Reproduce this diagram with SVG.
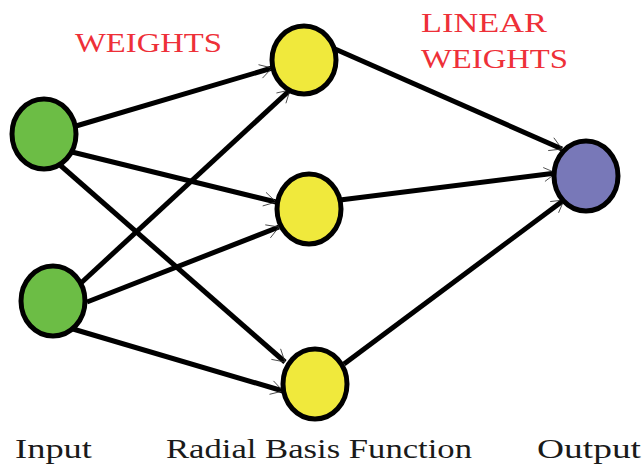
<svg xmlns="http://www.w3.org/2000/svg" width="643" height="472" viewBox="0 0 643 472">
<style>
.edge{stroke:#000;stroke-width:5;fill:none;marker-end:url(#arr)}
.node{stroke:#000;stroke-width:5}
.in{fill:#6cbd45}
.rbf{fill:#f0e93c}
.out{fill:#7878b8}
.red{fill:#ee3038}
.lbl{fill:#1a1a1a}
</style>
<defs>
<marker id="arr" markerUnits="userSpaceOnUse" markerWidth="20" markerHeight="20" refX="0" refY="0" viewBox="-16 -10 20 20" orient="auto">
<path d="M-12,-7 L0,0 L-12,7" fill="none" stroke="#333" stroke-width="0.8"/>
</marker>
</defs>
<rect width="643" height="472" fill="#fff"/>
<g id="connectors">
<line class="edge" x1="76" y1="126" x2="272" y2="68"/>
<line class="edge" x1="72" y1="152" x2="276" y2="202"/>
<line class="edge" x1="60" y1="165" x2="285" y2="362"/>
<line class="edge" x1="81" y1="283" x2="290" y2="90"/>
<line class="edge" x1="87" y1="302" x2="279" y2="227"/>
<line class="edge" x1="73" y1="329" x2="283" y2="391"/>
<line class="edge" x1="335" y1="49" x2="562" y2="149"/>
<line class="edge" x1="340" y1="200" x2="556" y2="173"/>
<line class="edge" x1="344" y1="364" x2="564" y2="200"/>
</g>
<g id="input1"><ellipse class="node in" cx="44" cy="134" rx="32" ry="35"/></g>
<g id="input2"><ellipse class="node in" cx="53" cy="301" rx="32" ry="35"/></g>
<g id="rbf1"><ellipse class="node rbf" cx="304" cy="60" rx="32" ry="34"/></g>
<g id="rbf2"><ellipse class="node rbf" cx="309" cy="209" rx="32" ry="35"/></g>
<g id="rbf3"><ellipse class="node rbf" cx="315" cy="384" rx="32" ry="35"/></g>
<g id="output"><ellipse class="node out" cx="586" cy="176" rx="32" ry="35"/></g>
<g id="labels" font-family="Liberation Serif, DejaVu Serif, serif" font-size="28">
<text class="red" x="75" y="52" textLength="147" lengthAdjust="spacingAndGlyphs">WEIGHTS</text>
<text class="red" x="421" y="32" textLength="126" lengthAdjust="spacingAndGlyphs">LINEAR</text>
<text class="red" x="421" y="68" textLength="147" lengthAdjust="spacingAndGlyphs">WEIGHTS</text>
<text class="lbl" x="15" y="458" textLength="77" lengthAdjust="spacingAndGlyphs">Input</text>
<text class="lbl" x="166" y="458" textLength="306" lengthAdjust="spacingAndGlyphs">Radial Basis Function</text>
<text class="lbl" x="537" y="458" textLength="104" lengthAdjust="spacingAndGlyphs">Output</text>
</g>
</svg>
